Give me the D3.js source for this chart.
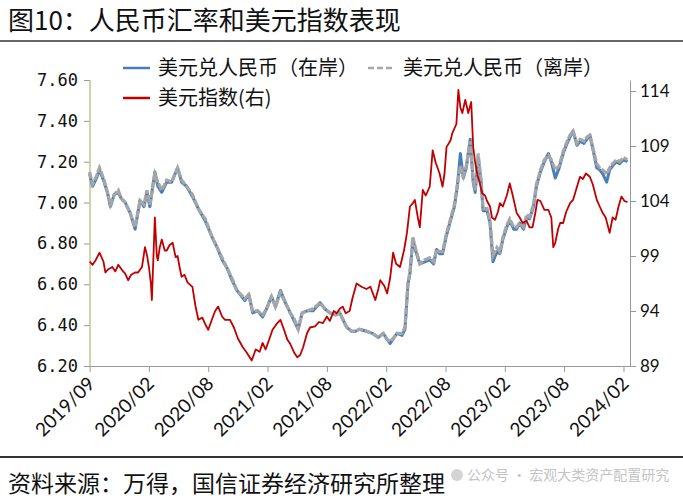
<!DOCTYPE html>
<html><head><meta charset="utf-8">
<script src="https://cdn.jsdelivr.net/npm/d3@7"></script>
<style>
body{margin:0;background:#fff;}
svg{display:block;}
</style></head>
<body><svg id="c" width="683" height="500"></svg>
<script>
// ---- data ----
const xLabels = ['2019/09','2020/02','2020/08','2021/02','2021/08','2022/02','2022/08','2023/02','2023/08','2024/02'];
const tickMonths = [0,6,12,18,24,30,36,42,48,54];
const leftTicks = [6.2,6.4,6.6,6.8,7.0,7.2,7.4,7.6];
const rightTicks = [89,94,99,104,109,114];

const cnyMonths = [0.0,0.3,0.7,1.0,1.4,1.8,2.1,2.5,2.9,3.2,3.6,4.1,4.6,5.1,5.5,5.8,6.1,6.6,6.9,7.3,7.8,8.3,8.9,9.3,9.8,10.4,11.0,11.7,12.4,12.9,13.4,13.9,14.4,14.9,15.7,16.1,16.5,17.0,17.5,17.9,18.4,18.8,19.3,19.8,20.3,20.7,21.1,21.5,22.0,22.6,23.3,23.8,24.3,24.9,25.3,25.7,26.0,26.5,26.9,27.3,28.0,28.6,29.2,29.7,30.1,30.4,30.8,31.1,31.6,31.9,32.2,32.4,32.7,33.0,33.4,33.9,34.4,34.8,35.1,35.4,35.7,36.1,36.5,36.9,37.2,37.5,37.8,38.1,38.5,38.8,39.0,39.3,39.6,39.8,40.2,40.5,40.8,41.2,41.5,41.8,42.2,42.5,42.9,43.2,43.5,43.9,44.2,44.5,44.9,45.2,45.6,46.0,46.4,46.7,47.1,47.5,47.9,48.3,48.6,48.9,49.3,49.6,50.0,50.3,50.6,51.0,51.3,51.6,51.9,52.3,52.6,52.9,53.3,53.6,54.0,54.4];
const cnyOnshore = [7.14,7.08,7.12,7.16,7.11,7.05,6.98,7.04,7.05,7.02,7.00,6.95,6.87,7.01,6.98,7.05,6.98,7.15,7.08,7.05,7.10,7.10,7.17,7.10,7.08,7.03,6.97,6.91,6.83,6.78,6.72,6.68,6.62,6.57,6.52,6.55,6.46,6.47,6.44,6.48,6.54,6.49,6.57,6.51,6.46,6.42,6.38,6.46,6.47,6.47,6.51,6.48,6.46,6.45,6.46,6.42,6.39,6.37,6.37,6.38,6.37,6.36,6.34,6.36,6.33,6.31,6.34,6.36,6.35,6.38,6.60,6.65,6.82,6.76,6.70,6.71,6.72,6.70,6.77,6.75,6.75,6.84,6.91,6.98,7.08,7.24,7.12,7.17,7.31,7.10,7.05,7.22,7.10,6.96,6.96,6.90,6.71,6.76,6.75,6.82,6.88,6.91,6.87,6.87,6.90,6.87,6.93,6.92,6.98,7.08,7.15,7.20,7.24,7.20,7.12,7.17,7.24,7.29,7.32,7.35,7.28,7.30,7.29,7.31,7.33,7.24,7.17,7.16,7.14,7.10,7.16,7.18,7.20,7.19,7.21,7.20];
const cnyOffshore = [7.15,7.09,7.13,7.17,7.12,7.05,6.99,7.04,7.06,7.02,7.00,6.95,6.88,7.01,6.99,7.06,6.99,7.14,7.10,7.06,7.11,7.10,7.17,7.11,7.08,7.04,6.97,6.92,6.83,6.78,6.73,6.68,6.63,6.57,6.53,6.55,6.47,6.47,6.45,6.48,6.54,6.49,6.56,6.51,6.46,6.43,6.38,6.46,6.47,6.48,6.51,6.48,6.46,6.45,6.46,6.42,6.39,6.37,6.37,6.38,6.37,6.36,6.34,6.36,6.33,6.32,6.34,6.36,6.36,6.39,6.61,6.66,6.83,6.77,6.70,6.72,6.73,6.71,6.77,6.76,6.76,6.85,6.92,6.99,7.09,7.18,7.13,7.18,7.30,7.11,7.06,7.24,7.11,6.97,6.97,6.91,6.74,6.78,6.76,6.83,6.89,6.92,6.88,6.88,6.90,6.88,6.94,6.93,6.99,7.09,7.16,7.21,7.23,7.21,7.16,7.18,7.25,7.30,7.33,7.35,7.29,7.31,7.30,7.32,7.33,7.25,7.19,7.17,7.16,7.14,7.17,7.19,7.21,7.20,7.22,7.21];

const dxyMonths = [0.0,0.3,0.6,1.0,1.4,1.6,1.9,2.3,2.6,2.9,3.3,3.6,3.9,4.2,4.6,4.9,5.3,5.6,5.8,6.0,6.2,6.3,6.4,6.6,6.8,6.9,7.1,7.3,7.6,7.8,8.1,8.4,8.7,8.9,9.1,9.3,9.6,9.9,10.4,10.7,11.0,11.4,11.7,12.0,12.4,12.7,13.0,13.4,13.7,14.2,14.6,15.0,15.5,15.9,16.4,16.8,17.2,17.5,17.8,18.2,18.5,18.9,19.3,19.7,20.0,20.3,20.7,21.0,21.3,21.6,22.0,22.3,22.8,23.2,23.6,24.0,24.3,24.7,25.0,25.3,25.6,25.9,26.3,26.6,27.0,27.5,28.0,28.4,28.9,29.2,29.4,29.8,30.1,30.4,30.7,31.0,31.4,31.8,32.1,32.4,32.7,32.9,33.2,33.4,33.7,34.0,34.4,34.7,35.0,35.4,35.7,35.9,36.1,36.5,36.7,37.1,37.3,37.5,37.7,38.0,38.3,38.6,38.8,39.0,39.2,39.5,39.7,40.0,40.2,40.5,40.7,41.0,41.3,41.5,41.8,42.2,42.5,42.8,43.2,43.5,43.8,44.2,44.5,44.8,45.1,45.3,45.6,46.0,46.4,46.7,46.9,47.1,47.4,47.6,47.9,48.2,48.6,48.9,49.2,49.6,49.9,50.2,50.6,50.9,51.3,51.6,51.9,52.2,52.6,52.9,53.2,53.5,53.8,54.1,54.4];
const dxyIndex = [98.5,98.2,98.6,99.3,98.5,97.5,97.8,98.0,97.6,98.2,97.7,97.4,96.8,97.3,97.5,97.5,98.0,99.8,99.1,98.0,96.5,95.0,97.5,102.5,99.0,98.6,99.8,100.5,99.5,99.5,100.0,100.2,98.9,99.0,98.0,97.1,97.3,96.6,96.2,94.5,93.2,93.4,92.8,92.3,93.3,94.0,94.4,93.5,93.2,93.2,92.5,91.5,90.7,90.2,89.5,90.5,90.3,91.1,90.5,91.5,92.3,92.8,93.2,92.2,91.4,91.0,90.2,89.8,90.0,90.7,92.0,92.5,92.6,93.0,92.9,93.5,93.1,94.0,93.8,94.2,94.4,93.8,94.0,95.2,96.5,96.2,96.0,96.2,95.0,96.0,96.8,96.3,95.6,97.0,99.3,98.3,98.0,99.5,101.1,103.5,103.8,104.1,102.5,101.6,105.0,104.5,105.3,108.6,107.5,106.5,105.3,106.5,108.9,109.5,110.2,111.0,114.1,112.5,112.0,113.2,112.0,113.0,108.9,107.5,106.5,105.5,104.7,104.5,104.0,103.5,102.5,102.3,103.0,103.8,103.5,104.5,105.6,104.5,102.9,102.5,102.0,102.2,101.6,101.6,103.0,104.1,104.0,103.2,103.2,102.5,99.8,100.2,101.5,102.0,102.0,103.0,103.8,104.1,105.0,106.2,106.0,106.5,106.2,105.5,104.1,103.5,102.9,102.5,101.1,102.5,102.3,103.5,104.4,104.0,103.9];

const seriesNames = ['美元兑人民币（在岸）','美元兑人民币（离岸）','美元指数(右)'];
const titleText = '图10：人民币汇率和美元指数表现';
const sourceText = '资料来源：万得，国信证券经济研究所整理';
const watermarkText = '公众号 · 宏观大类资产配置研究';

// ---- drawing ----
const svg = d3.select('#c');
const CJK = '"Noto Sans CJK SC", "Noto Sans", sans-serif';
const colors = {on:'#4a7ebb', off:'#a6a6a6', dxy:'#c00000'};

const x = d3.scaleLinear().domain([0, 54.66]).range([89.6, 630]);
const yL = d3.scaleLinear().domain([6.2, 7.6]).range([366, 80]);
const yR = d3.scaleLinear().domain([89, 115]).range([366, 80]);

// title
svg.append('text').attr('x', 8).attr('y', 30).text(titleText)
  .style('font-family', CJK).style('font-size', '26px').attr('fill', '#111');
svg.append('line').attr('x1', 0).attr('x2', 683).attr('y1', 41).attr('y2', 41)
  .attr('stroke', '#333').attr('stroke-width', 1.5);

// axes
const gx = svg.append('g').attr('transform', 'translate(0,366)')
  .call(d3.axisBottom(x).tickValues(tickMonths).tickSize(6).tickSizeOuter(0).tickFormat((d, i) => xLabels[i]));
gx.select('.domain').attr('stroke', '#999');
gx.selectAll('.tick line').attr('stroke', '#999');
gx.selectAll('.tick text').attr('x', 0).attr('y', 0).attr('dy', 0)
  .attr('transform', 'translate(6,19) rotate(-45)').style('text-anchor', 'end')
  .style('font-family', 'Lato, sans-serif').style('font-size', '19px').attr('fill', '#111');

const gl = svg.append('g').attr('transform', 'translate(90,0)')
  .call(d3.axisLeft(yL).tickValues(leftTicks).tickSize(6).tickPadding(6).tickFormat(d3.format('.2f')));
gl.select('.domain').remove();
gl.selectAll('.tick line').attr('stroke', '#999');
gl.selectAll('.tick text').style('font-family', '"DejaVu Sans Mono", monospace').style('font-size', '17px').attr('fill', '#111');
svg.append('line').attr('x1', 90).attr('x2', 90).attr('y1', yL(7.6)).attr('y2', yL(6.2))
  .attr('stroke', '#c2c48e').attr('stroke-width', 1.5);

const gr = svg.append('g').attr('transform', 'translate(630,0)')
  .call(d3.axisRight(yR).tickValues(rightTicks).tickSize(6).tickPadding(4).tickSizeOuter(0));
gr.select('.domain').attr('stroke', '#999');
gr.selectAll('.tick line').attr('stroke', '#999');
gr.selectAll('.tick text').style('font-family', 'Lato, sans-serif').style('font-size', '17px').attr('fill', '#111');

// series
const lineOn = d3.line().x((d, i) => x(cnyMonths[i])).y(d => yL(d));
const lineDxy = d3.line().x((d, i) => x(dxyMonths[i])).y(d => yR(d));

svg.append('path').datum(cnyOnshore).attr('d', lineOn).attr('fill', 'none')
  .attr('stroke', colors.on).attr('stroke-width', 3).attr('stroke-linejoin', 'round');
svg.append('path').datum(cnyOffshore).attr('d', lineOn).attr('fill', 'none')
  .attr('stroke', colors.off).attr('stroke-width', 3.2).attr('stroke-dasharray', '7,1.5');
svg.append('path').datum(dxyIndex).attr('d', lineDxy).attr('fill', 'none')
  .attr('stroke', colors.dxy).attr('stroke-width', 1.8).attr('stroke-linejoin', 'round');

// legend
const leg = [
  {n: seriesNames[0], c: colors.on, x: 123, y: 68, dash: null},
  {n: seriesNames[1], c: colors.off, x: 368, y: 68, dash: '6,3'},
  {n: seriesNames[2], c: colors.dxy, x: 123, y: 98, dash: null}
];
leg.forEach(l => {
  svg.append('line').attr('x1', l.x).attr('x2', l.x + 27).attr('y1', l.y).attr('y2', l.y)
    .attr('stroke', l.c).attr('stroke-width', 2.5).attr('stroke-dasharray', l.dash);
  svg.append('text').attr('x', l.x + 35).attr('y', l.y).attr('dy', '0.36em').text(l.n)
    .style('font-family', CJK).style('font-size', '20px').attr('fill', '#111');
});

// footer
svg.append('line').attr('x1', 0).attr('x2', 683).attr('y1', 457).attr('y2', 457)
  .attr('stroke', '#333').attr('stroke-width', 2);
svg.append('circle').attr('cx', 457).attr('cy', 475).attr('r', 6).attr('fill', '#d4d4d4');
svg.append('text').attr('x', 467).attr('y', 480).text(watermarkText)
  .style('font-family', CJK).style('font-size', '14px').attr('fill', '#c4c4c4');
svg.append('text').attr('x', 8).attr('y', 492).text(sourceText)
  .style('font-family', CJK).style('font-size', '23px').attr('fill', '#111');
</script></body></html>
